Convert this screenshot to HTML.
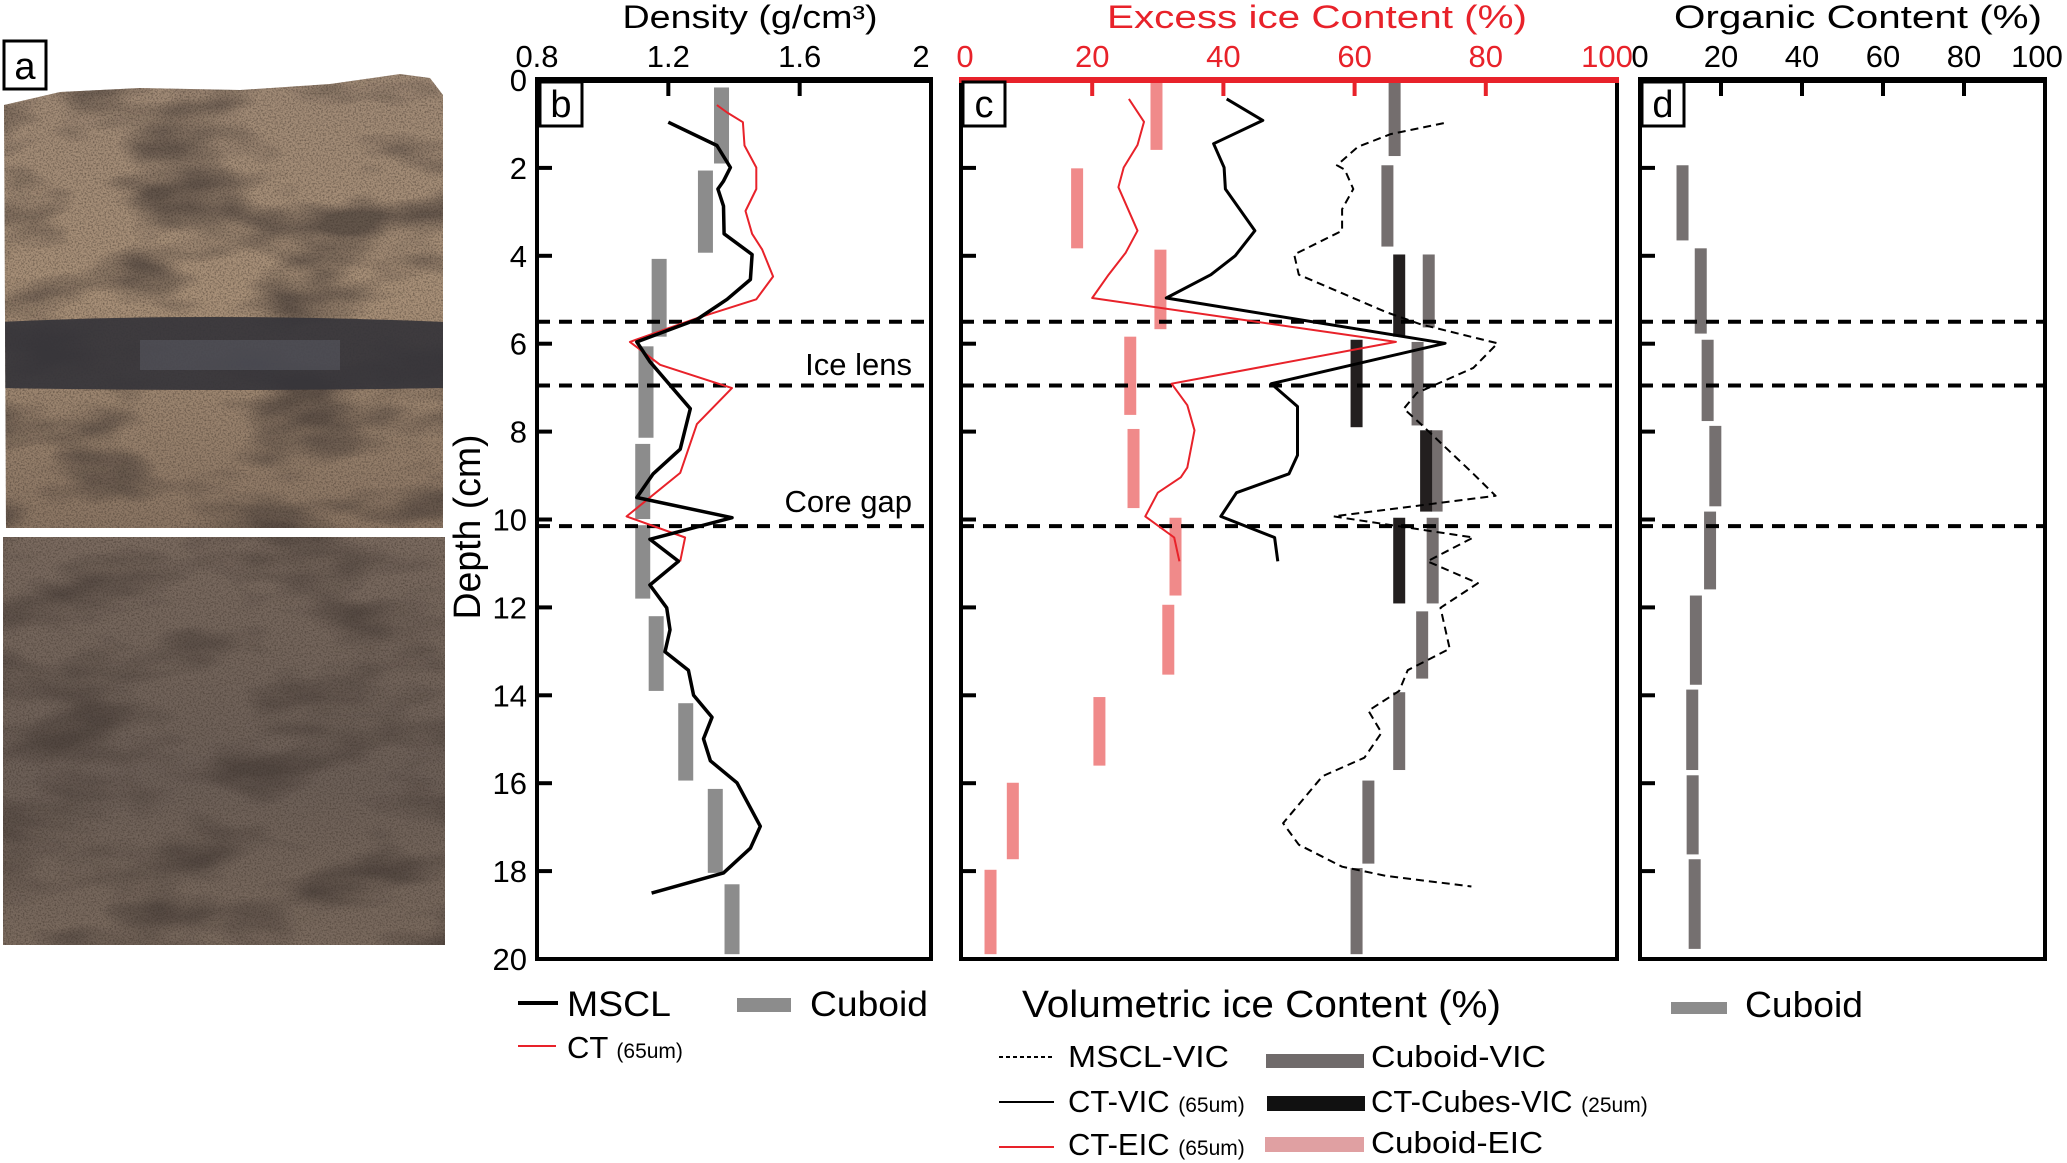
<!DOCTYPE html>
<html><head><meta charset="utf-8"><title>Core profile chart</title>
<style>
html,body{margin:0;padding:0;background:#fff;}
svg{display:block;}
text{font-family:"Liberation Sans",sans-serif;}
.nar{font-family:"Liberation Sans Narrow","Liberation Sans",sans-serif;}
</style></head>
<body>
<svg id="fig" xmlns="http://www.w3.org/2000/svg" width="2067" height="1163" viewBox="0 0 2067 1163">
<defs>
<filter id="grain" x="0" y="0" width="100%" height="100%" color-interpolation-filters="sRGB">
<feTurbulence type="fractalNoise" baseFrequency="0.6" numOctaves="2" seed="3"/>
<feColorMatrix type="matrix" values="0 0 0 0 0.22  0 0 0 0 0.18  0 0 0 0 0.15  0 0 0 -2.5 1.45"/>
</filter>
<filter id="blot" x="0" y="0" width="100%" height="100%" color-interpolation-filters="sRGB">
<feTurbulence type="fractalNoise" baseFrequency="0.008 0.02" numOctaves="3" seed="7"/>
<feColorMatrix type="matrix" values="0 0 0 0 0.28  0 0 0 0 0.24  0 0 0 0 0.22  0 0 0 -3 1.7"/>
</filter>
<linearGradient id="upperG" x1="0" y1="0" x2="0" y2="1">
<stop offset="0" stop-color="#a08a76"/><stop offset="0.5" stop-color="#a89078"/><stop offset="1" stop-color="#8a7563"/>
</linearGradient>
<linearGradient id="lowerG" x1="0" y1="0" x2="0" y2="1">
<stop offset="0" stop-color="#7a6a5f"/><stop offset="0.6" stop-color="#6c5f57"/><stop offset="1" stop-color="#7a6a5e"/>
</linearGradient>
<clipPath id="upClip"><path d="M4,105 L60,92 L140,88 L240,90 L330,84 L400,74 L430,78 L443,95 L443,528 L6,528 Z"/></clipPath>
<clipPath id="loClip"><rect x="3" y="537" width="442" height="408"/></clipPath>
</defs>

<g>
<g clip-path="url(#upClip)">
<rect x="0" y="70" width="446" height="460" fill="url(#upperG)"/>
<rect x="0" y="70" width="446" height="460" fill="#000" filter="url(#blot)" opacity="0.7"/>
<rect x="0" y="70" width="446" height="460" fill="#000" filter="url(#grain)" opacity="0.5"/>
<path d="M0,322 Q200,312 446,322 L446,388 Q220,392 0,388 Z" fill="#35343a" opacity="0.92"/>
<rect x="140" y="340" width="200" height="30" fill="#6f7380" opacity="0.3"/>
</g>
<g clip-path="url(#loClip)">
<rect x="3" y="537" width="442" height="408" fill="url(#lowerG)"/>
<rect x="3" y="537" width="442" height="408" fill="#000" filter="url(#blot)" opacity="0.7"/>
<rect x="3" y="537" width="442" height="408" fill="#000" filter="url(#grain)" opacity="0.5"/>
</g>
<rect x="4" y="41" width="42" height="48" fill="#fff" stroke="#000" stroke-width="3"/>
<text x="25" y="79" font-size="38" text-anchor="middle">a</text>
</g>

<g id="gB"></g>
<g id="gC"></g>
<g id="gD"></g>

<text x="750" y="28" font-size="32" text-anchor="middle" class="nar" textLength="255" lengthAdjust="spacingAndGlyphs">Density (g/cm³)</text>
<text x="1317" y="28" font-size="32" fill="#e8222a" text-anchor="middle" class="nar" textLength="420" lengthAdjust="spacingAndGlyphs">Excess ice Content (%)</text>
<text x="1858" y="28" font-size="32" text-anchor="middle" class="nar" textLength="368" lengthAdjust="spacingAndGlyphs">Organic Content (%)</text>
<text transform="translate(480,527) rotate(-90)" font-size="38" text-anchor="middle" class="nar" textLength="185" lengthAdjust="spacingAndGlyphs">Depth (cm)</text>
<text x="912" y="375" font-size="31" text-anchor="end">Ice lens</text>
<text x="912" y="512" font-size="31" text-anchor="end">Core gap</text>

<g>
<line x1="518" y1="1003" x2="558" y2="1003" stroke="#000" stroke-width="4"/>
<text x="567" y="1016" font-size="35" class="nar" textLength="104" lengthAdjust="spacingAndGlyphs">MSCL</text>
<rect x="737" y="998" width="54" height="14" fill="#8c8c8c"/>
<text x="810" y="1016" font-size="35" class="nar" textLength="118" lengthAdjust="spacingAndGlyphs">Cuboid</text>
<line x1="518" y1="1046" x2="556" y2="1046" stroke="#e8222a" stroke-width="2"/>
<text x="567" y="1058" font-size="31" class="nar">CT <tspan font-size="21">(65um)</tspan></text>
</g>

<g>
<text x="1022" y="1017" font-size="38" class="nar" textLength="479" lengthAdjust="spacingAndGlyphs">Volumetric ice Content (%)</text>
<line x1="999" y1="1057" x2="1054" y2="1057" stroke="#000" stroke-width="2" stroke-dasharray="4,3"/>
<text x="1068" y="1067" font-size="31" class="nar" textLength="161" lengthAdjust="spacingAndGlyphs">MSCL-VIC</text>
<rect x="1266" y="1054" width="98" height="14" fill="#706b6b"/>
<text x="1371" y="1067" font-size="31" class="nar" textLength="175" lengthAdjust="spacingAndGlyphs">Cuboid-VIC</text>
<line x1="999" y1="1102" x2="1054" y2="1102" stroke="#000" stroke-width="2"/>
<text x="1068" y="1112" font-size="31" class="nar">CT-VIC <tspan font-size="21">(65um)</tspan></text>
<rect x="1267" y="1096" width="98" height="15" fill="#111"/>
<text x="1371" y="1112" font-size="31" class="nar">CT-Cubes-VIC <tspan font-size="21">(25um)</tspan></text>
<line x1="999" y1="1147" x2="1054" y2="1147" stroke="#e8222a" stroke-width="2"/>
<text x="1068" y="1155" font-size="31" class="nar">CT-EIC <tspan font-size="21">(65um)</tspan></text>
<rect x="1265" y="1137" width="99" height="15" fill="#e0a0a2"/>
<text x="1371" y="1153" font-size="31" class="nar" textLength="172" lengthAdjust="spacingAndGlyphs">Cuboid-EIC</text>
</g>

<g>
<rect x="1671" y="1002" width="56" height="12" fill="#8c8c8c"/>
<text x="1745" y="1017" font-size="36" class="nar" textLength="118" lengthAdjust="spacingAndGlyphs">Cuboid</text>
</g>
</svg>

<script>
const depthTicks = [0,2,4,6,8,10,12,14,16,18,20];
const densityTicks = [0.8,1.2,1.6,2];
const densityTickLabels = ["0.8","1.2","1.6","2"];
const pctTicks = [0,20,40,60,80,100];
const pctTickLabels = ["0","20","40","60","80","100"];
const boundaryDepths = [5.5,6.95,10.15];

const msclDepth = [0.96,1.49,1.99,2.30,2.48,2.87,3.50,3.97,4.54,4.99,5.45,5.96,6.41,7.48,8.40,8.96,9.50,9.96,10.45,10.95,11.49,12.01,12.51,13.01,13.43,14.0,14.5,14.99,15.49,15.99,16.98,17.48,18.04,18.50];
const msclDensity = [1.200,1.348,1.389,1.368,1.351,1.368,1.370,1.455,1.450,1.379,1.287,1.104,1.144,1.267,1.236,1.154,1.104,1.394,1.144,1.231,1.144,1.195,1.205,1.190,1.261,1.277,1.333,1.307,1.328,1.409,1.480,1.450,1.368,1.149];
const ctDepth = [0.57,0.74,0.96,1.49,1.99,2.48,2.98,3.50,3.86,4.47,4.99,5.42,5.96,6.48,7.01,7.83,8.94,9.93,10.41,10.95];
const ctDensity = [1.348,1.379,1.427,1.432,1.468,1.468,1.435,1.455,1.486,1.519,1.468,1.287,1.083,1.175,1.394,1.287,1.236,1.073,1.251,1.236];
const cuboidDensity = [1.362,1.313,1.172,1.132,1.122,1.122,1.163,1.253,1.343,1.394];
const cuboidTop = [0.17,2.06,4.07,6.06,8.28,10.13,12.2,14.18,16.13,18.3];
const cuboidBottom = [1.9,3.93,5.84,8.14,9.99,11.8,13.9,15.94,18.04,19.89];

const ctVicDepth = [0.43,0.92,1.45,1.99,2.48,3.43,4.0,4.43,4.96,5.99,6.91,7.43,8.54,8.96,9.39,9.93,10.41,10.95];
const ctVic = [40.5,46.0,38.5,40.1,40.3,44.8,41.8,38.1,31.3,73.8,47.3,51.3,51.3,50.0,42.0,39.6,47.8,48.3];
const ctEicDepth = [0.43,0.95,1.48,1.99,2.44,3.43,3.93,4.43,4.96,5.96,6.91,7.40,7.97,8.82,9.04,9.39,9.93,10.41,10.95];
const ctEic = [25.6,27.9,26.9,24.8,24.0,26.9,25.1,22.5,20.0,66.3,32.1,34.5,35.6,34.5,33.5,30.0,28.1,32.5,33.3];
const msclVicDepth = [0.98,1.23,1.52,1.94,2.04,2.48,2.94,3.43,3.97,4.43,4.85,5.28,5.56,5.99,6.55,7.12,7.48,7.83,8.96,9.46,9.93,10.41,10.95,11.45,12.01,12.94,13.43,13.9,14.35,14.85,15.42,15.84,16.91,17.4,17.9,18.11,18.35];
const msclVic = [73.6,65.5,60.5,57.3,58.5,59.8,58.1,58.1,50.8,51.5,58.1,64.8,70.1,81.8,78.1,69.5,67.5,70.1,78.1,81.5,56.8,78.1,71.1,78.8,73.1,74.5,68.1,66.8,62.1,64.1,61.5,55.1,49.1,51.5,58.1,64.8,77.8];
const cuboidVic = [66.1,65.0,71.3,69.6,72.5,71.9,70.3,66.8,62.1,60.3];
const cuboidVicTop = [0.03,1.94,3.97,5.96,7.97,9.96,12.09,13.93,15.94,17.93];
const cuboidVicBottom = [1.73,3.79,5.63,7.86,9.82,11.91,13.62,15.7,17.83,19.89];
const ctCubesVic = [66.8,60.3,70.9,66.8];
const ctCubesTop = [3.97,5.91,7.97,9.96];
const ctCubesBottom = [5.84,7.9,9.82,11.91];
const cuboidEic = [29.8,17.7,30.4,25.8,26.3,32.7,31.6,21.1,7.9,4.5];
const cuboidEicTop = [0,2.01,3.86,5.84,7.94,9.96,11.94,14.04,15.99,17.97];
const cuboidEicBottom = [1.59,3.83,5.67,7.62,9.74,11.73,13.53,15.6,17.73,19.89];

const organic = [10.5,15.0,16.7,18.6,17.3,13.8,12.9,13.0,13.5];
const organicTop = [1.94,3.83,5.91,7.87,9.82,11.73,13.87,15.82,17.73];
const organicBottom = [3.65,5.77,7.76,9.7,11.59,13.76,15.7,17.62,19.77];

const TOP = 80, BOT = 959;
function yD(d){ return TOP + d*(BOT-TOP)/20; }
const B = {l:537, r:931}, C = {l:961, r:1617}, D = {l:1640, r:2045};
function xB(v){ return B.l + (v-0.8)*(B.r-B.l)/1.2; }
function xC(v){ return C.l + v*(C.r-C.l)/100; }
function xD(v){ return D.l + v*(D.r-D.l)/100; }

const NS = "http://www.w3.org/2000/svg";
function mk(parent, tag, attrs){
  const e = document.createElementNS(NS, tag);
  for (const k in attrs) e.setAttribute(k, attrs[k]);
  parent.appendChild(e);
  return e;
}
const gB = document.getElementById('gB'), gC = document.getElementById('gC'), gD = document.getElementById('gD');

function bars(g, vals, tops, bots, xf, w, color, name){
  for (let i=0;i<vals.length;i++){
    const r = mk(g,'rect',{x:xf(vals[i])-w/2, y:yD(tops[i]), width:w, height:yD(bots[i])-yD(tops[i]), fill:color});
    
    
  }
}
function line(g, vals, depths, xf, color, w, dash, name){
  const pts = vals.map((v,i)=> xf(v).toFixed(1)+','+yD(depths[i]).toFixed(1)).join(' ');
  const p = mk(g,'polyline',{points:pts, fill:'none', stroke:color, 'stroke-width':w, 'stroke-linejoin':'round'});
  if (dash) p.setAttribute('stroke-dasharray', dash);
  
  
}
function dashes(g, x1, x2, name){
  boundaryDepths.forEach((d,i)=>{
    const l = mk(g,'line',{x1:x1, x2:x2, y1:yD(d), y2:yD(d), stroke:'#000', 'stroke-width':4, 'stroke-dasharray':'13,9'});
    
    
  });
}
function frame(g, P, topColor, name){
  const f = mk(g,'rect',{x:P.l, y:TOP, width:P.r-P.l, height:BOT-TOP, fill:'none', stroke:'#000', 'stroke-width':4});
  
  
  const t = mk(g,'line',{x1:P.l-2, x2:P.r+2, y1:TOP, y2:TOP, stroke:topColor, 'stroke-width':6});
  
  
}
function yticks(g, P, name){
  depthTicks.forEach(d=>{
    if (d===0 || d===20) return;
    const t = mk(g,'line',{x1:P.l, x2:P.l+15, y1:yD(d), y2:yD(d), stroke:'#000', 'stroke-width':4});
    
    
  });
}
function xticks(g, ticks, labels, xf, color, name, labelOffset){
  ticks.forEach((v,i)=>{
    const x = xf(v);
    if (i>0 && i<ticks.length-1){
      const t = mk(g,'line',{x1:x, x2:x, y1:TOP, y2:TOP+16, stroke:color, 'stroke-width':4});
      
      
    }
    const lx = x + (labelOffset ? labelOffset(i) : 0);
    const tx = mk(g,'text',{x:lx, y:67, 'font-size':31, fill:color, 'text-anchor':'middle', class:'nar'});
    tx.textContent = labels[i];
    
    
  });
}
function panelLabel(g, x, letter, name){
  const r = mk(g,'rect',{x:x, y:82, width:42, height:44, fill:'#fff', stroke:'#000', 'stroke-width':3});
  
  
  const t = mk(g,'text',{x:x+21, y:117, 'font-size':38, 'text-anchor':'middle'});
  t.textContent = letter;
  
  
}

bars(gB, cuboidDensity, cuboidTop, cuboidBottom, xB, 15, '#8c8c8c', 'cuboid-density-bar');
dashes(gB, B.l, B.r, 'density');
line(gB, ctDensity, ctDepth, xB, '#e8222a', 2, null, 'ct-density-line');
line(gB, msclDensity, msclDepth, xB, '#000', 3.5, null, 'mscl-density-line');
frame(gB, B, '#000', 'density');
yticks(gB, B, 'density');
xticks(gB, densityTicks, densityTickLabels, xB, '#000', 'density', i=> i===3?-10:0);
depthTicks.forEach(d=>{
  const t = mk(gB,'text',{x:527, y:yD(d)+11, 'font-size':31, 'text-anchor':'end', class:'nar'});
  t.textContent = String(d);
  
  
});
panelLabel(gB, 540, 'b', 'panel-b');

bars(gC, cuboidEic, cuboidEicTop, cuboidEicBottom, xC, 12, '#f08a8a', 'cuboid-eic-bar');
bars(gC, cuboidVic, cuboidVicTop, cuboidVicBottom, xC, 12, '#746e6e', 'cuboid-vic-bar');
bars(gC, ctCubesVic, ctCubesTop, ctCubesBottom, xC, 12, '#231f1f', 'ct-cubes-vic-bar');
dashes(gC, C.l, C.r, 'ice');
line(gC, msclVic, msclVicDepth, xC, '#000', 2, '8,5', 'mscl-vic-line');
line(gC, ctEic, ctEicDepth, xC, '#e8222a', 2, null, 'ct-eic-line');
line(gC, ctVic, ctVicDepth, xC, '#000', 3, null, 'ct-vic-line');
frame(gC, C, '#e8222a', 'ice');
yticks(gC, C, 'ice');
xticks(gC, pctTicks, pctTickLabels, xC, '#e8222a', 'excess-ice', i=> i===0?4:(i===5?-10:0));
panelLabel(gC, 963, 'c', 'panel-c');

bars(gD, organic, organicTop, organicBottom, xD, 12, '#757070', 'organic-bar');
dashes(gD, D.l, D.r, 'organic');
frame(gD, D, '#000', 'organic');
yticks(gD, D, 'organic');
xticks(gD, pctTicks, pctTickLabels, xD, '#000', 'organic', i=> i===5?-8:0);
panelLabel(gD, 1642, 'd', 'panel-d');
</script>
</body></html>
